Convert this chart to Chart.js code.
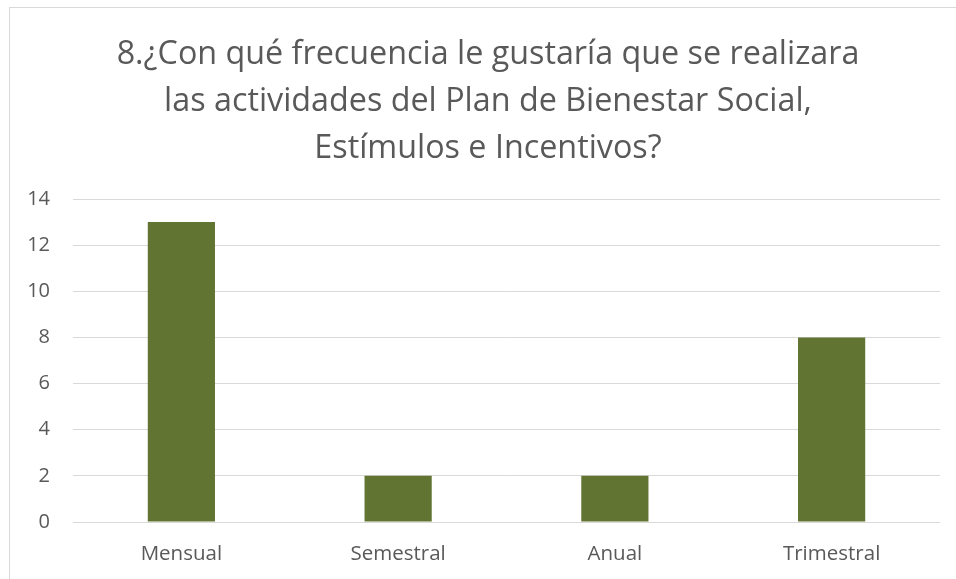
<!DOCTYPE html>
<html>
<head>
<meta charset="utf-8">
<script src="https://cdn.jsdelivr.net/npm/chart.js@4/dist/chart.umd.min.js"></script>
<style>
  html, body { margin: 0; padding: 0; background: #fff; overflow: hidden; }
  .frame { position: absolute; left: 9px; top: 7px; width: 980px; height: 600px; border: 1px solid #d9d9d9; box-sizing: border-box; }
  .wrap { position: absolute; left: 0; top: 0; width: 956px; height: 579px; }
</style>
</head>
<body>
<div class="frame"></div>
<div class="wrap"><canvas id="myBarChart"></canvas></div>
<script>
const titleLines = [
  "8.¿Con qué frecuencia le gustaría que se realizara",
  "las actividades del Plan de Bienestar Social,",
  "Estímulos e Incentivos?",
];
const categories = ["Mensual", "Semestral", "Anual", "Trimestral"];
const answers = [13, 2, 2, 8];
const yTicks = [0, 2, 4, 6, 8, 10, 12, 14];

const textColor = "#595959";
const fontName = "'Open Sans', sans-serif";

const canvas = document.getElementById("myBarChart");
const ctx = canvas.getContext("2d");

// 제목은 차트 영역보다 조금 왼쪽에 가운데 정렬됨
const titlePlugin = {
  id: "titleLines",
  afterDraw: (chart) => {
    const c = chart.ctx;
    c.save();
    c.fillStyle = textColor;
    c.font = `32.3px ${fontName}`;
    c.textAlign = "center";
    c.textBaseline = "alphabetic";
    titleLines.forEach((line, i) => {
      c.fillText(line, 488, 64 + i * 47);
    });
    c.restore();
  },
};

const data = {
  labels: categories,
  datasets: [
    {
      label: "Respuestas",
      data: answers,
      backgroundColor: "#617431",
      categoryPercentage: 1,
      barPercentage: 0.31,
    },
  ],
};

const options = {
  responsive: true,
  maintainAspectRatio: false,
  animation: false,
  layout: { padding: { left: 0, right: 16, top: 199, bottom: 0 } },
  plugins: {
    legend: { display: false },
    tooltip: { enabled: false },
    title: { display: false },
  },
  scales: {
    y: {
      min: 0,
      max: 14,
      afterFit: (scale) => { scale.width = 73; },
      afterBuildTicks: (scale) => { scale.ticks = yTicks.map((v) => ({ value: v })); },
      border: { display: false },
      grid: { color: "#d9d9d9", lineWidth: 1, drawTicks: false },
      ticks: {
        color: textColor,
        padding: 23,
        font: { family: fontName, size: 20 },
      },
    },
    x: {
      afterFit: (scale) => { scale.height = 57; },
      border: { display: false },
      grid: { display: false, drawTicks: false },
      ticks: {
        color: textColor,
        padding: 20,
        font: { family: fontName, size: 20.5 },
      },
    },
  },
};

const myBarChart = new Chart(ctx, {
  type: "bar",
  data: data,
  options: options,
  plugins: [titlePlugin],
});
</script>
</body>
</html>
